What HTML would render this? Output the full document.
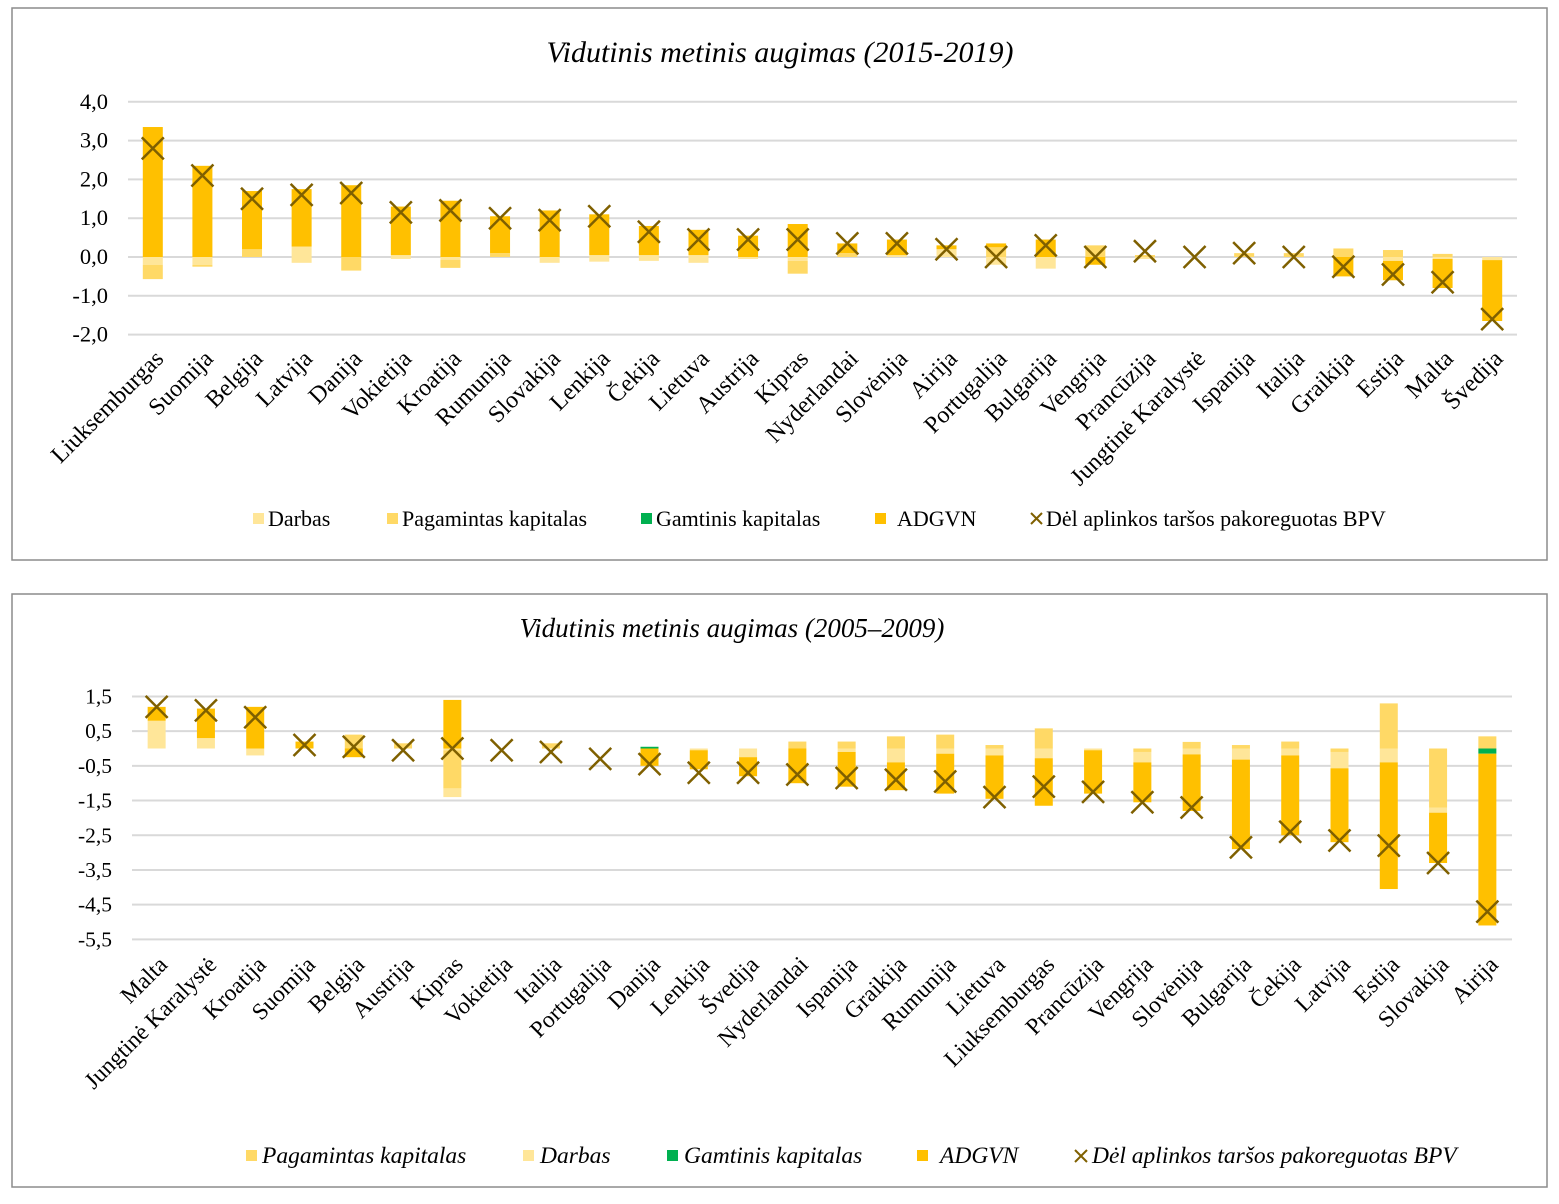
<!DOCTYPE html>
<html><head><meta charset="utf-8"><style>
html,body{margin:0;padding:0;background:#fff}
svg{display:block}
text{font-family:"Liberation Serif",serif;fill:#000}
</style></head><body>
<svg id="s" width="1559" height="1204" viewBox="0 0 1559 1204" xmlns="http://www.w3.org/2000/svg">
<rect x="12" y="8" width="1535" height="552" fill="#fff" stroke="#8c8c8c" stroke-width="1.5"/>
<rect x="12" y="594" width="1535" height="593" fill="#fff" stroke="#8c8c8c" stroke-width="1.5"/>
<text x="780" y="62" font-size="30" font-style="italic" text-anchor="middle">Vidutinis metinis augimas (2015-2019)</text>
<text x="732" y="637" font-size="27" font-style="italic" text-anchor="middle">Vidutinis metinis augimas (2005–2009)</text>
<g id="g"></g>
<g font-size="22">
<rect x="253" y="513" width="11" height="11" fill="#FFE699"/><text x="268" y="526">Darbas</text>
<rect x="387" y="513" width="11" height="11" fill="#FFD966"/><text x="402" y="526">Pagamintas kapitalas</text>
<rect x="641" y="513" width="11" height="11" fill="#00B050"/><text x="656" y="526">Gamtinis kapitalas</text>
<rect x="875" y="513" width="11" height="11" fill="#FFC000"/><text x="897" y="526">ADGVN</text>
<path d="M1031 513 l11 11 M1042 513 l-11 11" stroke="#7F6000" stroke-width="2"/><text x="1046" y="526">Dėl aplinkos taršos pakoreguotas BPV</text>
</g>
<g font-size="23.5" font-style="italic">
<rect x="246" y="1150" width="11" height="11" fill="#FFD966"/><text x="262" y="1163">Pagamintas kapitalas</text>
<rect x="523" y="1150" width="11" height="11" fill="#FFE699"/><text x="540" y="1163">Darbas</text>
<rect x="667" y="1150" width="11" height="11" fill="#00B050"/><text x="684" y="1163">Gamtinis kapitalas</text>
<rect x="917" y="1150" width="11" height="11" fill="#FFC000"/><text x="940" y="1163">ADGVN</text>
<path d="M1075 1150 l12 12 M1087 1150 l-12 12" stroke="#7F6000" stroke-width="2"/><text x="1092" y="1163">Dėl aplinkos taršos pakoreguotas BPV</text>
</g>
</svg>
<script>
var D="#FFE699",P="#FFD966",G="#00B050",A="#FFC000";
var c1=[
["Liuksemburgas",[[0,3.35,A],[0,-0.2,D],[-0.2,-0.57,P]],2.8],
["Suomija",[[0,2.35,A],[0,-0.2,D],[-0.2,-0.25,P]],2.1],
["Belgija",[[0,0.2,P],[0.2,1.7,A]],1.5],
["Latvija",[[0,0.27,D],[0.27,1.75,A],[0,-0.15,D]],1.6],
["Danija",[[0,1.85,A],[0,-0.35,P]],1.65],
["Vokietija",[[0,0.05,D],[0.05,1.3,A],[0,-0.05,D]],1.15],
["Kroatija",[[0,1.45,A],[0,-0.07,D],[-0.07,-0.28,P]],1.2],
["Rumunija",[[0,0.1,P],[0.1,1.05,A]],1.0],
["Slovakija",[[0,1.2,A],[0,-0.15,D]],0.95],
["Lenkija",[[0,0.05,D],[0.05,1.1,A],[0,-0.12,D]],1.05],
["Čekija",[[0,0.05,D],[0.05,0.8,A],[0,-0.1,D]],0.65],
["Lietuva",[[0,0.05,D],[0.05,0.7,A],[0,-0.15,D]],0.45],
["Austrija",[[0,0.55,A],[0,-0.05,D]],0.45],
["Kipras",[[0,0.85,A],[0,-0.1,D],[-0.1,-0.43,P]],0.45],
["Nyderlandai",[[0,0.1,P],[0.1,0.35,A]],0.35],
["Slovėnija",[[0,0.05,D],[0.05,0.45,A]],0.35],
["Airija",[[0,0.2,D],[0.2,0.3,A]],0.2],
["Portugalija",[[0,0.25,P],[0.25,0.35,A],[0,-0.2,D]],0.0],
["Bulgarija",[[0,0.45,A],[0,-0.3,D]],0.3],
["Vengrija",[[0,0.3,P],[0,-0.2,A]],0.0],
["Prancūzija",[[0,0.05,P],[0,-0.05,D]],0.15],
["Jungtinė Karalystė",[],0.0],
["Ispanija",[[0,0.1,P]],0.1],
["Italija",[[0,0.1,P]],0.0],
["Graikija",[[0,0.22,P],[0,-0.5,A]],-0.25],
["Estija",[[0,0.18,P],[0,-0.1,D],[-0.1,-0.6,A]],-0.45],
["Malta",[[0,0.08,P],[0,-0.05,D],[-0.05,-0.8,A]],-0.65],
["Švedija",[[0,-0.08,D],[-0.08,-1.65,A]],-1.6]];
var c2=[
["Malta",[[0,0.8,D],[0.8,1.2,A]],1.2],
["Jungtinė Karalystė",[[0,0.3,D],[0.3,1.15,A]],1.1],
["Kroatija",[[0,1.2,A],[0,-0.2,D]],0.9],
["Suomija",[[0,0.2,A]],0.1],
["Belgija",[[0,0.4,P],[0,-0.25,A]],0.05],
["Austrija",[[0,0.15,P]],-0.05],
["Kipras",[[0,1.4,A],[0,-0.05,D],[-0.05,-1.15,P],[-1.15,-1.4,D]],0.0],
["Vokietija",[],-0.05],
["Italija",[[0,0.15,P]],-0.1],
["Portugalija",[],-0.3],
["Danija",[[0,0.05,G],[0,-0.5,A]],-0.45],
["Lenkija",[[0,-0.05,D],[-0.05,-0.6,A]],-0.7],
["Švedija",[[0,-0.25,D],[-0.25,-0.8,A]],-0.7],
["Nyderlandai",[[0,0.2,P],[0,-1.0,A]],-0.75],
["Ispanija",[[0,0.2,P],[0,-0.1,D],[-0.1,-1.1,A]],-0.85],
["Graikija",[[0,0.35,P],[0,-0.4,D],[-0.4,-1.2,A]],-0.9],
["Rumunija",[[0,0.4,P],[0,-0.15,D],[-0.15,-1.3,A]],-0.95],
["Lietuva",[[0,0.1,P],[0,-0.2,D],[-0.2,-1.45,A]],-1.4],
["Liuksemburgas",[[0,0.58,P],[0,-0.28,D],[-0.28,-1.65,A]],-1.1],
["Prancūzija",[[0,-0.05,D],[-0.05,-1.3,A]],-1.25],
["Vengrija",[[0,-0.1,P],[-0.1,-0.4,D],[-0.4,-1.55,A]],-1.55],
["Slovėnija",[[0,0.19,P],[0,-0.17,D],[-0.17,-1.8,A]],-1.7],
["Bulgarija",[[0,0.1,P],[0,-0.32,D],[-0.32,-2.9,A]],-2.85],
["Čekija",[[0,0.2,P],[0,-0.2,D],[-0.2,-2.5,A]],-2.4],
["Latvija",[[0,-0.1,P],[-0.1,-0.57,D],[-0.57,-2.7,A]],-2.65],
["Estija",[[0,1.3,P],[0,-0.4,D],[-0.4,-4.05,A]],-2.8],
["Slovakija",[[0,-1.7,P],[-1.7,-1.85,D],[-1.85,-3.3,A]],-3.3],
["Airija",[[0,0.35,P],[0,-0.15,G],[-0.15,-5.1,A]],-4.7]];
var h="";
function chart(data,x0,x1,zero,unit,ticks,lblx,bw,fs,ly,tfs){
 ticks.forEach(function(t){var y=zero-t[0]*unit;
  h+='<line x1="'+x0+'" x2="'+x1+'" y1="'+y+'" y2="'+y+'" stroke="#d9d9d9" stroke-width="2"/>';
  h+='<text x="'+lblx+'" y="'+(y+7)+'" font-size="'+tfs+'" text-anchor="end">'+t[1]+'</text>';});
 var w=(x1-x0)/data.length;
 data.forEach(function(d,i){var cx=x0+w*(i+0.5);
  d[1].forEach(function(s){var a=zero-s[0]*unit,b=zero-s[1]*unit;var t=Math.min(a,b),hh=Math.abs(a-b);
   h+='<rect x="'+(cx-bw/2)+'" y="'+t+'" width="'+bw+'" height="'+hh+'" fill="'+s[2]+'"/>';});
  var y=zero-d[2]*unit,r=11;
  h+='<path d="M'+(cx-r)+' '+(y-r)+'L'+(cx+r)+' '+(y+r)+'M'+(cx+r)+' '+(y-r)+'L'+(cx-r)+' '+(y+r)+'" stroke="#7F6000" stroke-width="2.5"/>';
  h+='<text transform="translate('+(cx+12)+','+ly+') rotate(-45)" font-size="'+fs+'" text-anchor="end">'+d[0]+'</text>';});
}
chart(c1,128,1517,257,38.8,[[4,"4,0"],[3,"3,0"],[2,"2,0"],[1,"1,0"],[0,"0,0"],[-1,"-1,0"],[-2,"-2,0"]],108,20,24,360,22.5);
chart(c2,132,1512,748.5,34.7,[[1.5,"1,5"],[0.5,"0,5"],[-0.5,"-0,5"],[-1.5,"-1,5"],[-2.5,"-2,5"],[-3.5,"-3,5"],[-4.5,"-4,5"],[-5.5,"-5,5"]],112,18,23.5,966,21.5);
document.getElementById("g").innerHTML=h;
</script>
</body></html>
